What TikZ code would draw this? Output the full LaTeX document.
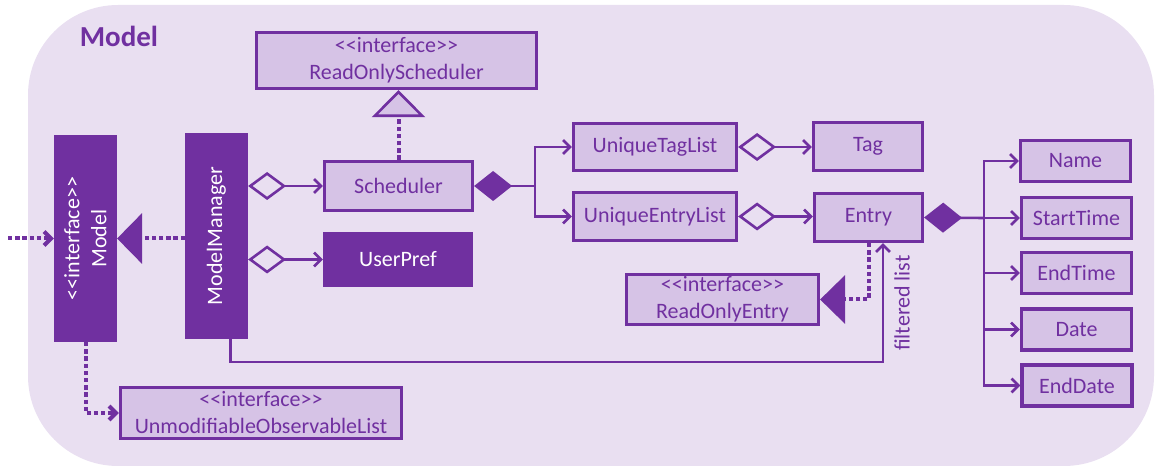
\documentclass[tikz,border=0pt]{standalone}
\usepackage{fontspec}
\setmainfont{Carlito}[Ligatures=TeXOff]
\usetikzlibrary{arrows.meta}
\definecolor{umlpurple}{HTML}{7030A0}
\definecolor{modelbg}{HTML}{E9DFF1}
\definecolor{classfill}{HTML}{D6C3E6}
\tikzset{
    classbox/.style={draw=umlpurple, fill=classfill, line width=1.6pt, text=umlpurple,
        inner sep=0pt, align=center, font=\fontsize{11}{13.5}\selectfont},
    darkbox/.style={classbox, fill=umlpurple, text=white},
    attrbox/.style={classbox, minimum width=55pt, minimum height=20.5pt},
    assoc/.style={draw=umlpurple, line width=1.3pt, -{Straight Barb[length=3.5pt,width=7pt]}},
    depend/.style={assoc, line width=2pt, dash pattern=on 2.2pt off 1.4pt},
    aggr/.style={assoc, {Diamond[open,length=19pt,width=14pt]}-{Straight Barb[length=3.5pt,width=7pt]}},
    compo/.style={assoc, {Diamond[length=19pt,width=15pt]}-},
}
\begin{document}
\begin{tikzpicture}[x=0.5pt, y=-0.5pt]
    \useasboundingbox (0,0) rectangle (1158,470);
    \fill[modelbg, rounded corners=45pt] (28,5) rectangle (1154,466);
    \node[font=\bfseries\fontsize{14.5}{17}\selectfont, text=umlpurple] (title) at (119,36) {Model};

    % classes
    \node[classbox, minimum width=140pt, minimum height=28pt] (ros) at (396.5,60.5) {<<interface>>\\ReadOnlyScheduler};
    \node[classbox, minimum width=74pt, minimum height=24.5pt] (sched) at (398.5,186) {Scheduler};
    \node[darkbox, minimum width=73.5pt, minimum height=26pt] (upref) at (398,259.5) {UserPref};
    \node[darkbox, rotate=90, minimum width=102pt, minimum height=30pt] (model) at (85.5,238.5) {<<interface>>\\Model};
    \node[darkbox, rotate=90, minimum width=101.5pt, minimum height=30pt] (mgr) at (216.5,236) {ModelManager};
    \node[classbox, minimum width=81.5pt, minimum height=23.5pt] (tags) at (655,147) {UniqueTagList};
    \node[classbox, minimum width=81.5pt, minimum height=24pt] (entries) at (655,216.5) {UniqueEntryList};
    \node[classbox, minimum width=54.5pt, minimum height=24pt] (tag) at (868,146.5) {Tag};
    \node[classbox, minimum width=54pt, minimum height=24pt] (entry) at (868.5,217.5) {Entry};
    \node[classbox, minimum width=96pt, minimum height=25pt] (roentry) at (722.5,299.5) {<<interface>>\\ReadOnlyEntry};
    \node[classbox, minimum width=140.5pt, minimum height=25.5pt] (uolist) at (261,413) {<<interface>>\\UnmodifiableObservableList};
    \node[attrbox] (name) at (1075.5,161) {Name};
    \node[attrbox] (start) at (1076.5,218) {StartTime};
    \node[attrbox] (endtime) at (1076.5,273) {EndTime};
    \node[attrbox] (date) at (1076.5,329.5) {Date};
    \node[attrbox] (enddate) at (1077,385.5) {EndDate};

    % dependencies round Model
    \coordinate (ext) at (8,238.5);
    \draw[depend] (ext) -- (model.north);
    \draw[depend, -{Triangle[length=12.5pt,width=25pt]}] (mgr.north |- model.south) -- (model.south);
    \draw[depend] (model.west) |- (uolist.west);

    % ModelManager
    \draw[aggr] (mgr.south |- sched.west) -- (sched.west);
    \draw[aggr] (mgr.south |- upref.west) -- (upref.west);
    \draw[depend, -{Triangle[length=13.5pt,width=26.5pt,fill=classfill,line width=1.3pt]}] (sched.north) -- (sched.north |- ros.south);

    % Scheduler parts
    \coordinate (sbus) at (535,186);
    \draw[compo] (sched.east) -- (sbus);
    \draw[assoc] (sbus) |- (tags.west);
    \draw[assoc] (sbus) |- (entries.west);
    \draw[aggr] (tags.east) -- (tags.east -| tag.west);
    \draw[aggr] (entries.east) -- (entries.east -| entry.west);

    % Entry fields
    \coordinate (ebus) at (984,218);
    \draw[compo] (entry.east) -- (ebus);
    \foreach \field in {name,start,endtime,date,enddate}
        \draw[assoc] (ebus) |- (\field.west);
    \draw[depend, -{Triangle[length=12.5pt,width=24pt]}] (entry.south) |- (roentry.east);

    % filtered list
    \coordinate (flt) at (883,362);
    \draw[assoc] ([xshift=7pt]mgr.west) |- (flt) -- (flt |- entry.south);
    \node[text=umlpurple, rotate=90, font=\fontsize{11}{13.5}\selectfont] (fltlabel) at (902,303) {filtered list};
\end{tikzpicture}
\end{document}
